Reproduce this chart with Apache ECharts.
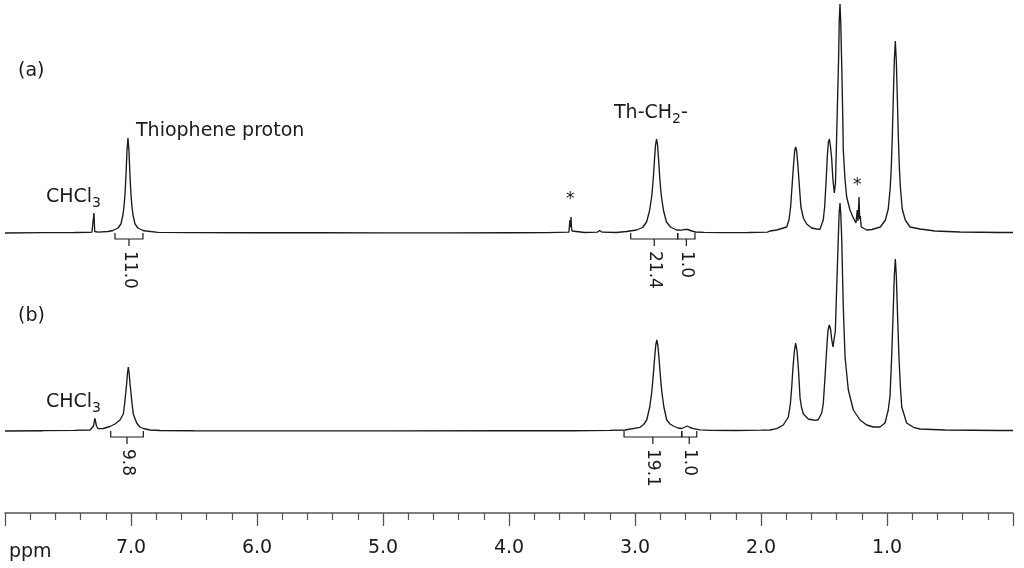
<!DOCTYPE html>
<html><head><meta charset="utf-8">
<script src="https://cdn.jsdelivr.net/npm/echarts@6/dist/echarts.min.js"></script>
<style>html,body{margin:0;padding:0;background:#fff}#c{width:1024px;height:568px}</style>
</head><body><div id="c"></div>
<script>
// ---- data: [ppm, intensity] ----
const traceA = [
[8.00,0],[7.70,0.3],[7.45,0.5],[7.33,0.7],
[7.310,0.8],[7.300,1.5],[7.294,20],[7.288,1.5],[7.275,0.9],
[7.262,0.9],[7.183,1.5],[7.143,2.5],[7.103,5],[7.080,9],[7.064,18],[7.056,26],[7.048,38],[7.040,57],[7.032,82],[7.024,95],[7.016,82],[7.008,57],[7.000,38],[6.992,26],[6.984,18],[6.968,9],[6.945,5],[6.905,2.5],[6.880,2],[6.873,2.4],[6.865,1.3],[6.786,0.7],
[6.5,0.4],[6.0,0.3],[5.5,0.3],[5.0,0.2],[4.5,0.2],[4.0,0.3],[3.7,0.4],
[3.525,0.8],[3.519,2],[3.516,13],[3.512,6],[3.508,16],[3.504,5],[3.500,2],[3.490,0.8],
[3.40,0.5],[3.30,0.8],[3.28,2.5],[3.26,0.8],[3.15,0.5],
[3.067,1.5],[2.988,3],[2.940,5.5],[2.908,11],[2.885,22],[2.869,35],[2.861,45],[2.853,58],[2.845,74],[2.837,88],[2.829,94],[2.821,88],[2.813,74],[2.805,58],[2.797,45],[2.789,35],[2.773,22],[2.750,11],[2.718,6],[2.670,3],
[2.63,2.8],[2.60,3.7],[2.58,3.5],[2.55,2],[2.52,1],[2.45,0.6],[2.3,0.4],[2.1,0.5],[1.95,0.9],
[1.929,2],[1.875,3],[1.796,6],[1.778,13],[1.765,26],[1.754,46],[1.743,66],[1.733,82],[1.725,86],[1.717,82],[1.706,66],[1.695,46],[1.683,26],[1.664,15],[1.638,9],[1.598,5],[1.558,4],[1.532,3.7],
[1.506,13],[1.495,26],[1.484,50],[1.474,76],[1.466,90],[1.458,94],[1.450,88],[1.440,76],[1.429,53],[1.418,40],
[1.409,50],[1.400,95],[1.392,135],[1.384,175],[1.379,212],[1.373,229],[1.367,210],[1.359,166],[1.351,116],[1.347,83],[1.333,53],[1.320,36],[1.294,23],[1.267,15],[1.246,10],
[1.236,23],[1.230,12],[1.222,36],[1.217,14],[1.212,17],[1.204,6],[1.190,4],[1.161,3],[1.119,3.5],
[1.053,6],[1.013,13],[0.990,24],[0.974,46],[0.966,66],[0.958,96],[0.950,135],[0.942,172],[0.934,192],[0.926,172],[0.918,135],[0.910,96],[0.902,66],[0.894,46],[0.879,24],[0.855,13],[0.817,6],[0.738,4],[0.619,2],[0.421,1],[0.103,0.5],[0.0,0.5]
];
const traceB = [
[8.00,0],[7.70,0.3],[7.45,0.6],
[7.325,1],[7.310,2],[7.298,5],[7.286,12.7],[7.274,5],[7.262,2.5],[7.240,2.3],[7.220,2.5],[7.167,4.5],[7.127,7],[7.087,11],[7.061,17],[7.048,30],[7.034,48],[7.028,58],[7.021,64],[7.015,58],[7.008,48],[6.994,30],[6.982,17],[6.955,8],[6.929,4],[6.902,2.5],[6.849,1],[6.770,0.5],
[6.5,0.3],[6.0,0.2],[5.0,0.2],[4.0,0.3],[3.5,0.3],[3.2,0.6],
[3.079,1],[2.960,3.7],[2.931,6.5],[2.907,11],[2.883,24],[2.867,39],[2.859,50],[2.851,62],[2.843,75],[2.835,86],[2.827,91],[2.819,86],[2.811,75],[2.803,62],[2.795,50],[2.787,39],[2.771,24],[2.748,11],[2.722,7],[2.696,5],[2.659,3],[2.629,2.5],[2.603,4],[2.585,5],[2.563,3.5],[2.537,2.3],[2.484,1.2],[2.405,0.7],[2.2,0.5],[2.0,0.8],
[1.929,1],[1.875,2.3],[1.823,6],[1.783,14],[1.767,27],[1.756,44],[1.746,64],[1.735,80],[1.725,88],[1.714,80],[1.703,62],[1.690,33],[1.679,24],[1.664,17],[1.625,12],[1.585,11],[1.563,10.7],[1.545,11.5],[1.532,13],[1.518,18],[1.506,27],[1.492,54],[1.479,81],[1.469,100],[1.458,106],[1.448,102],[1.439,92],[1.429,84],[1.421,82],
[1.410,100],[1.400,141],[1.387,191],[1.380,218],[1.373,228],[1.367,218],[1.359,191],[1.347,124],[1.333,74],[1.307,41],[1.267,21],[1.214,11],[1.161,6],[1.109,4],[1.056,4],[1.016,8],[0.990,21],[0.976,35],[0.963,74],[0.952,115],[0.942,155],[0.934,172],[0.926,155],[0.916,115],[0.905,74],[0.894,45],[0.883,24],[0.844,8],[0.790,3.7],[0.738,2],[0.540,1],[0.103,0.5],[0.0,0.5]
];
// integration regions: [from ppm, to ppm, value]
const integralsA = [[7.127,6.905,'11.0'],[3.034,2.661,'21.4'],[2.661,2.524,'1.0']];
const integralsB = [[7.161,6.902,'9.8'],[3.087,2.629,'19.1'],[2.629,2.510,'1.0']];
const tickLabels = ['', '1.0', '2.0', '3.0', '4.0', '5.0', '6.0', '7.0', ''];

const FONT = 'DejaVu Sans';
const INK = '#1a1a1a';

function bracketRenderer(list) {
  return function (params, api) {
    const s = api.value(0), e = api.value(1);
    const p1 = api.coord([s, 0]), p2 = api.coord([e, 0]);
    const y0 = p1[1], y1 = y0 + 6;
    const cx = (p1[0] + p2[0]) / 2;
    const label = list[params.dataIndex][2];
    return {
      type: 'group',
      children: [
        {type: 'polyline', shape: {points: [[p1[0], y0], [p1[0], y1], [p2[0], y1], [p2[0], y0]]},
         style: {stroke: INK, fill: null, lineWidth: 1.2}},
        {type: 'line', shape: {x1: cx, y1: y1, x2: cx, y2: y1 + 7}, style: {stroke: INK, lineWidth: 1.2}},
        {type: 'text', x: cx, y: y1 + 12, rotation: -Math.PI / 2,
         style: {text: label, fontSize: 17, fontFamily: FONT, fill: INK, align: 'left', verticalAlign: 'middle'}}
      ]
    };
  };
}

const chart = echarts.init(document.getElementById('c'), null, {renderer: 'canvas'});
const txt = (t, x, y, size) => ({type: 'text', x: x, y: y,
  style: {text: t, fontSize: size || 19, fontFamily: FONT, fill: INK, textVerticalAlign: 'middle', verticalAlign: 'middle'}});
const rich = (t, x, y) => ({type: 'text', x: x, y: y,
  style: {text: t, fill: INK, textVerticalAlign: 'middle', verticalAlign: 'middle',
    rich: {m: {fontSize: 19, fontFamily: FONT, lineHeight: 22, verticalAlign: 'top', fill: INK},
           s: {fontSize: 14, fontFamily: FONT, lineHeight: 14, verticalAlign: 'bottom', fill: INK}}}});

chart.setOption({
  animation: false,
  backgroundColor: '#fff',
  grid: {left: 5, right: 11, top: 0, bottom: 55},
  xAxis: {
    type: 'value', min: 0, max: 8, interval: 1, inverse: true,
    axisLine: {show: true, onZero: false, lineStyle: {color: '#555', width: 1.5}},
    axisTick: {show: true, length: 13, lineStyle: {color: '#555', width: 1.3}},
    minorTick: {show: true, splitNumber: 5, length: 7, lineStyle: {color: '#555', width: 1.2}},
    splitLine: {show: false},
    axisLabel: {margin: 26, fontSize: 19, fontFamily: FONT, color: INK,
      formatter: v => tickLabels[Math.round(v)]}
  },
  yAxis: [
    {type: 'value', min: -280, max: 233, show: false},
    {type: 'value', min: -82, max: 431, show: false}
  ],
  series: [
    {type: 'line', data: traceA, yAxisIndex: 0, showSymbol: false, symbol: 'none',
     lineStyle: {color: INK, width: 1.35}},
    {type: 'line', data: traceB, yAxisIndex: 1, showSymbol: false, symbol: 'none',
     lineStyle: {color: INK, width: 1.35}},
    {type: 'custom', yAxisIndex: 0, data: integralsA.map(d => [d[0], d[1]]), renderItem: bracketRenderer(integralsA)},
    {type: 'custom', yAxisIndex: 1, data: integralsB.map(d => [d[0], d[1]]), renderItem: bracketRenderer(integralsB)}
  ],
  graphic: [
    txt('(a)', 18, 71),
    txt('(b)', 18, 316),
    rich('{m|CHCl}{s|3}', 46, 199),
    rich('{m|CHCl}{s|3}', 46, 404),
    txt('Thiophene proton', 136, 131),
    rich('{m|Th-CH}{s|2}{m|-}', 614, 115),
    txt('*', 566, 200, 17),
    txt('*', 853, 186, 17),
    txt('ppm', 9, 552)
  ]
});
</script></body></html>
